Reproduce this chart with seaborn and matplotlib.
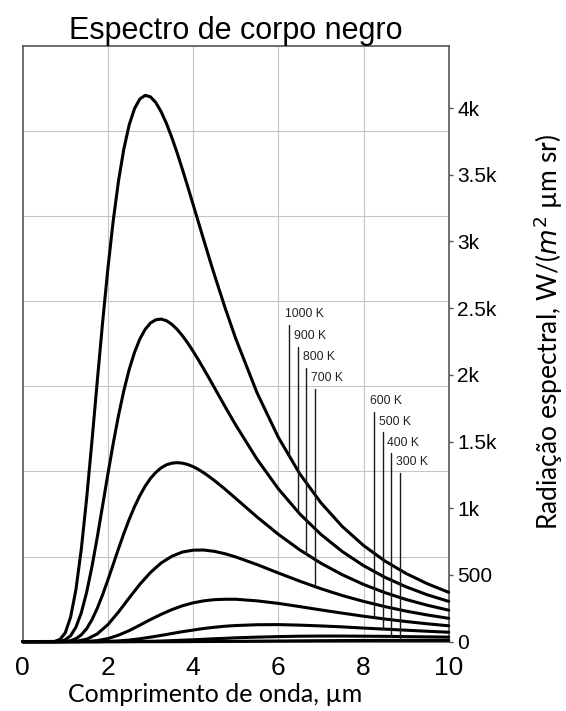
import numpy as np
import pandas as pd
import seaborn as sns
import matplotlib
matplotlib.use("Agg")
import matplotlib.pyplot as plt

# wavelengths (um); the three hottest curves are read on a finer grid near their peaks
wl_fine = [0.0, 0.75, 0.875, 1.0, 1.125, 1.25, 1.375, 1.5, 1.625, 1.75, 1.875, 2.0, 2.125,
           2.25, 2.375, 2.5, 2.625, 2.75, 2.875, 3.0, 3.125, 3.25, 3.375, 3.5, 3.625, 3.75,
           3.875, 4.0, 4.125, 4.25, 4.375, 4.5, 4.75, 5.0, 5.5, 6.0, 6.5, 7.0, 7.5, 8.0,
           8.5, 9.0, 9.5, 10.0]
wl_coarse = [0.0, 0.75, 1.0, 1.25, 1.5, 1.75, 2.0, 2.25, 2.5, 2.75, 3.0, 3.25, 3.5, 3.75,
             4.0, 4.25, 4.5, 4.75, 5.0, 5.5, 6.0, 6.5, 7.0, 7.5, 8.0, 8.5, 9.0, 9.5, 10.0]

temps = [1000, 900, 800, 700, 600, 500, 400, 300]

# spectral radiance, W/(m2 um sr)
rad_1000 = [0, 2, 17, 67, 185, 391, 692, 1071, 1501, 1951, 2391, 2798, 3156, 3456, 3695,
            3874, 3996, 4068, 4095, 4084, 4041, 3972, 3884, 3779, 3664, 3539, 3410, 3277,
            3144, 3011, 2879, 2750, 2503, 2272, 1866, 1532, 1260, 1041, 864, 721, 605, 511,
            434, 370]
rad_900 = [0, 0, 2.7, 14, 45, 109, 216, 369, 561, 782, 1019, 1257, 1486, 1697, 1883,
           2041, 2169, 2269, 2341, 2389, 2413, 2418, 2406, 2379, 2341, 2293, 2238, 2177,
           2112, 2044, 1975, 1904, 1762, 1624, 1368, 1146, 959, 804, 676, 570, 483, 411,
           351, 302]
rad_800 = [0, 0, 0.3, 2, 7.5, 22, 51, 97, 164, 250, 351, 463, 580, 698, 811,
           917, 1012, 1095, 1166, 1224, 1269, 1303, 1326, 1338, 1342, 1338, 1328, 1312,
           1291, 1266, 1238, 1208, 1143, 1074, 935, 805, 689, 588, 502, 429, 368, 316,
           273, 236]
rad_700 = [0, 0, 0, 3, 18, 58, 128, 223, 328, 430, 519, 590, 640, 672,
           686, 687, 677, 659, 635, 578, 515, 454, 397, 346, 302, 263, 229, 200, 175]
rad_600 = [0, 0, 0, 0, 2, 8, 23, 49, 83, 124, 166, 205, 240, 269,
           291, 306, 315, 318, 318, 306, 287, 263, 238, 214, 191, 170, 151, 134, 119]
rad_500 = [0, 0, 0, 0, 0, 0, 2, 6, 12, 22, 34, 47, 61, 75,
           87, 99, 108, 116, 121, 127, 128, 124, 118, 111, 102, 94, 86, 78, 71]
rad_400 = [0, 0, 0, 0, 0, 0, 0, 0, 0.7, 1.6, 3, 5, 8, 11,
           14, 18, 22, 25, 29, 34, 38, 41, 42, 42, 41, 40, 38, 36, 34]
rad_300 = [0, 0, 0, 0, 0, 0, 0, 0, 0, 0, 0, 0, 0, 0,
           0.7, 1.1, 1.5, 2.0, 2.6, 3.9, 5.2, 6.4, 7.5, 8.4, 9.1, 9.6, 9.8, 9.9, 9.9]

series = [rad_1000, rad_900, rad_800, rad_700, rad_600, rad_500, rad_400, rad_300]
grids = [wl_fine] * 3 + [wl_coarse] * 5

# curve labels: wavelength of the pointer line and the height of its top
label_text = ["1000 K", "900 K", "800 K", "700 K", "600 K", "500 K", "400 K", "300 K"]
label_wl = [6.25, 6.46, 6.66, 6.85, 8.25, 8.45, 8.65, 8.85]
label_top = [2374, 2211, 2054, 1894, 1724, 1570, 1412, 1267]

y_ticks = [0, 500, 1000, 1500, 2000, 2500, 3000, 3500, 4000]
y_ticklabels = ["0", "500", "1k", "1.5k", "2k", "2.5k", "3k", "3.5k", "4k"]
x_ticks = [0, 2, 4, 6, 8, 10]
y_max = 4465

rows = []
for t, grid, vals in zip(temps, grids, series):
    for w, v in zip(grid, vals):
        rows.append({"wl": w, "B": v, "T": t})
df = pd.DataFrame(rows)

sns.set_theme(style="white")
plt.rcParams["font.family"] = ["Liberation Sans", "DejaVu Sans"]
plt.rcParams["text.color"] = "black"
plt.rcParams["xtick.labelcolor"] = "black"
plt.rcParams["ytick.labelcolor"] = "black"

fig = plt.figure(figsize=(5.66, 7.11), dpi=100)
ax = fig.add_axes([0.0401, 0.0975, 0.7527, 0.8378])

# grid of the original image: 5 x 7 square cells
for gx in [2, 4, 6, 8]:
    ax.axvline(gx, color="#c4c4c4", lw=0.8, zorder=0)
for k in range(1, 7):
    ax.axhline(y_max * k / 7, color="#c4c4c4", lw=0.8, zorder=0)

sns.lineplot(data=df, x="wl", y="B", units="T", estimator=None, color="black",
             lw=2.2, ax=ax, legend=False, clip_on=False, zorder=3,
             solid_joinstyle="round", solid_capstyle="round", sort=False)

for txt, lw_, top, grid, vals in zip(label_text, label_wl, label_top, grids, series):
    bottom = np.interp(lw_, grid, vals)
    ax.plot([lw_, lw_], [bottom, top], color="#1a1a1a", lw=1.0, zorder=4)
    ax.text(lw_ - 0.09, top + 35, txt, fontsize=8.7, color="#222222",
            ha="left", va="bottom")

ax.set_xlim(0, 10)
ax.set_ylim(0, y_max)
ax.set_xticks(x_ticks)
ax.set_xticklabels([str(v) for v in x_ticks], fontsize=19)
ax.yaxis.tick_right()
ax.set_yticks(y_ticks)
ax.set_yticklabels(y_ticklabels, fontsize=15)
ax.tick_params(axis="both", direction="out", length=3, width=1, color="#555555")
ax.tick_params(axis="x", pad=7)
ax.tick_params(axis="y", pad=3)
ax.set_xlabel("")
ax.set_ylabel("")
for s in ax.spines.values():
    s.set_color("#555555")
    s.set_linewidth(1.2)
    s.set_visible(True)

fig.text(0.4165, 1 - 39 / 711, "Espectro de corpo negro", fontsize=22,
         ha="center", va="baseline")
fig.text(0.38, 1 - 694 / 711, "Comprimento de onda, µm", fontsize=18,
         ha="center", va="center", family=["Lato", "DejaVu Sans"])
fig.text(548 / 566, 1 - 332 / 711, r"Radiação espectral, W/($m^2$ µm sr)",
         fontsize=19, rotation=90, ha="center", va="center",
         family=["Lato", "DejaVu Sans"])

fig.savefig("out.png", dpi=100)
